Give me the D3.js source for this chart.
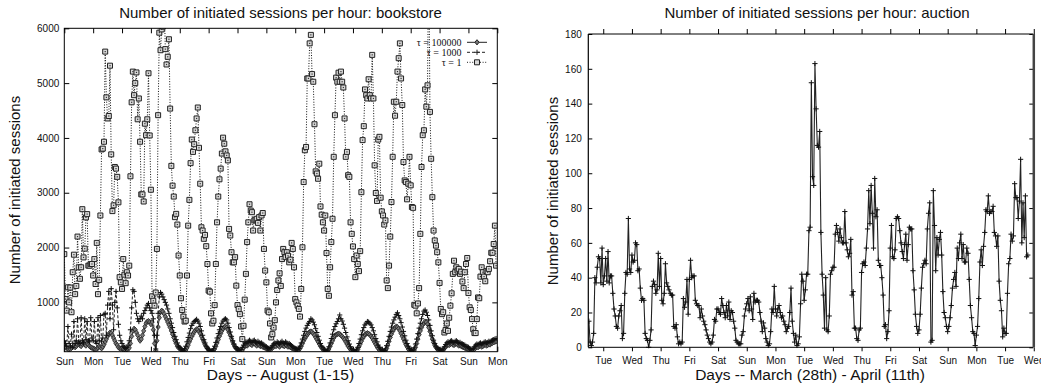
<!DOCTYPE html>
<html><head><meta charset="utf-8">
<script src="https://cdn.jsdelivr.net/npm/d3@7"></script>
<style>body{margin:0;background:#fff}</style>
</head><body>
<svg id="c" width="1041" height="385"></svg>
<script>
// ---------------- DATA ----------------
const bookDayLabels = ["Sun","Mon","Tue","Wed","Thu","Fri","Sat","Sun","Mon","Tue","Wed","Thu","Fri","Sat","Sun","Mon"];
const auctionDayLabels = ["Tue","Wed","Thu","Fri","Sat","Sun","Mon","Tue","Wed","Thu","Fri","Sat","Sun","Mon","Tue","Wed"];
const bookYTicks = [1000,2000,3000,4000,5000,6000];
const auctionYTicks = [0,20,40,60,80,100,120,140,160,180];
const seriesNames = ["\u03c4 = 100000","\u03c4 = 1000","\u03c4 = 1"];

// hourly values, bookstore, August 1-15 (hour 0 = Sun 00:00)
const tau100000 = [
210,190,170,150,140,150,170,190,210,180,200,230,250,220,200,240,260,230,210,250,230,200,180,170,
160,150,140,150,170,200,180,160,190,230,280,330,380,420,450,440,400,350,300,250,220,180,160,150,
160,150,140,130,140,150,170,250,380,480,520,500,450,400,340,300,330,400,480,560,620,650,660,640,
600,640,500,250,120,300,550,720,820,850,830,790,740,690,640,590,540,480,420,360,300,250,200,170,
170,140,120,100,100,130,170,220,280,330,380,420,460,490,510,500,470,430,380,330,280,230,190,160,
130,110,100,100,110,150,200,260,320,380,430,480,520,550,560,540,500,450,400,340,280,230,190,160,
140,120,110,110,130,170,200,220,210,230,250,240,220,250,260,230,210,240,220,200,210,190,180,170,
160,150,140,130,150,170,190,210,200,230,210,190,220,240,210,200,230,210,190,200,180,170,160,150,
140,130,120,130,160,200,250,300,340,380,410,440,460,470,460,430,400,360,320,280,240,200,170,150,
120,100,100,110,150,200,250,300,350,390,410,420,430,420,400,380,350,320,280,240,200,170,140,120,
110,100,100,110,140,190,240,290,340,380,410,430,440,430,410,380,350,310,270,230,190,160,130,110,
100,100,100,120,160,220,290,360,420,470,510,540,560,550,520,480,430,380,330,280,230,190,150,120,
110,100,100,130,180,250,330,410,480,540,590,620,650,640,600,540,470,400,330,270,220,180,150,130,
120,110,110,130,160,190,210,230,220,240,250,230,220,240,250,230,210,220,200,190,180,170,160,150,
140,130,120,110,130,150,170,190,180,200,210,190,200,220,230,210,220,240,230,250,260,270,280,290
];
const tau1000 = [
300,250,200,560,250,200,420,180,650,250,300,700,280,250,720,300,260,700,320,650,300,280,720,350,
300,650,280,250,720,300,760,280,350,780,800,400,950,1200,700,1250,950,500,1000,1200,900,600,400,300,
250,200,180,160,180,220,300,500,900,1230,1200,1000,800,700,650,700,750,700,800,850,900,950,980,900,
850,800,700,400,150,400,800,1100,1180,1150,1100,1050,1000,950,880,800,700,620,540,450,380,320,260,200,
180,150,130,120,150,200,280,360,440,520,580,620,650,670,690,660,620,560,480,400,320,260,200,160,
140,120,110,120,150,200,270,350,430,500,560,620,660,690,700,680,620,540,460,380,300,240,190,160,
150,140,130,140,180,220,260,280,260,290,310,290,270,300,310,280,260,290,270,250,260,240,220,200,
190,170,160,150,180,210,240,260,250,280,260,240,270,290,260,250,280,260,240,250,230,210,190,170,
160,150,140,160,200,260,330,400,470,530,580,620,650,700,680,640,590,520,450,380,310,250,200,170,
140,120,110,130,190,260,340,420,500,560,610,650,700,770,700,660,600,530,450,370,300,240,190,150,
130,110,110,130,180,250,330,410,480,540,590,620,650,640,620,590,540,480,410,340,280,220,180,150,
130,110,120,150,210,290,380,470,550,620,680,730,780,810,760,700,630,550,470,390,310,250,200,160,
130,120,130,170,240,330,430,530,620,700,780,840,860,820,760,680,580,480,390,310,250,200,170,150,
140,130,130,150,190,230,260,280,270,290,300,280,270,290,300,280,260,270,250,240,230,220,200,190,
180,160,150,140,160,190,220,240,230,250,260,240,250,270,280,260,270,290,280,300,310,320,330,340
];
const tau1 = [
1880,1060,850,1275,1000,1270,820,1550,1870,1150,1300,2200,1640,1430,1640,2700,1820,1980,2550,2610,1670,1670,1700,1700,1490,1790,1335,2085,1150,
1410,2585,3790,3805,3930,5575,4740,4355,4400,5318,3700,2665,2770,3470,3440,3290,2825,1460,1365,1245,1790,1505,1350,1550,1490,1670,3300,
4650,5210,4780,5000,5195,4340,4720,3930,2970,2970,2840,4260,4050,4340,5180,4045,3055,1110,1030,940,1180,1975,4415,5920,5600,5980,6030,6500,
5620,5340,5480,5800,4535,3490,3130,2930,2555,2615,2420,1855,1490,1075,860,740,650,665,1490,2400,2870,3540,3970,3745,3885,4140,4355,4555,3820,
3165,2370,2310,2160,2230,2025,1700,1215,1195,800,615,665,950,1700,2460,2930,3245,3440,3715,4005,3895,3755,3680,3590,2340,2220,1915,
1730,1730,1825,1305,950,880,785,560,330,573,1050,1520,2100,2460,2790,2675,2645,2310,2495,2510,2525,2450,2555,2310,2585,2630,1975,1580,
1365,850,820,615,360,420,540,675,1000,1225,1400,1530,1300,1790,1975,1915,1825,1915,1850,1730,1780,2085,1975,1640,1060,1000,940,880,
740,1245,2005,3195,3775,3835,5085,5085,5725,5880,5165,5025,4250,3390,3350,3255,3530,2750,2600,2460,2310,2585,1900,1245,1120,1640,2100,2525,
3655,4415,5100,5025,5190,5025,5210,5025,4920,4355,3655,3745,3320,3290,2460,2250,2020,1790,1460,1855,1700,1570,1935,3010,3960,4215,4885,4780,
4720,5070,4780,4720,5515,4720,3500,2995,2850,3970,4020,2910,2660,2585,2420,2495,1400,1260,1670,2200,2830,3655,4660,4405,4660,5210,5455,5725,
5085,4600,3560,3225,3195,2880,3165,3655,3135,2740,2725,955,940,800,980,1260,2250,3470,4050,4140,4885,4570,4960,7500,4475,3620,2920,2310,2130,
2035,1915,1730,1355,880,785,820,450,495,615,480,720,940,1165,1520,1760,1550,1640,1580,1610,1520,1560,1380,1260,1550,1700,1810,1170,
910,860,695,510,440,440,695,1090,1075,1470,1640,1550,1470,1385,1570,1550,1610,1750,1905,1905,2065,2400,1670
];

// hourly values, auction; first value is 12 hours before the first Tuesday
const auctionStartHour = -12;
const auction = [
15,3,1,3,8,40,37,46,52,51,37,57,
36,41,51,38,55,37,41,41,31,22,18,12,11,18,21,24,5,8,31,43,42,74,45,43,
53,49,50,60,59,44,45,34,27,28,27,8,5,4,0,4,10,35,38,36,31,33,54,35,
51,27,25,31,48,37,35,33,31,30,30,12,11,13,6,2,3,2,3,28,23,26,39,19,
39,50,40,41,41,27,25,24,24,17,22,18,15,13,10,7,5,3,2,3,7,16,15,22,
22,20,19,28,24,20,17,24,18,26,16,21,20,15,11,4,3,2,2,2,7,9,18,22,
25,28,21,29,22,16,31,26,27,27,26,20,15,9,14,11,5,3,1,2,9,22,20,35,
22,18,22,24,20,17,18,15,13,9,11,12,20,34,15,8,3,7,1,2,6,25,42,38,
27,33,42,42,67,69,152,98,93,163,137,116,115,124,66,42,30,11,40,10,9,18,42,44,
46,46,65,70,66,61,68,63,60,60,78,60,56,52,54,62,30,32,11,11,5,4,10,11,
43,48,49,47,57,68,90,71,93,77,57,97,75,79,50,47,47,40,30,12,13,5,9,21,
57,70,52,51,56,74,75,74,67,60,55,51,59,65,50,59,69,68,68,44,33,19,12,8,
10,19,34,46,48,50,48,68,77,83,3,4,90,70,44,63,53,62,66,53,32,20,17,12,
9,12,17,24,34,39,43,35,57,51,60,65,51,59,49,49,57,54,39,24,17,9,8,1,
7,12,28,49,56,47,58,66,79,78,87,77,78,78,81,66,64,58,64,38,27,21,6,11,
8,8,31,48,51,65,61,64,94,86,86,74,84,108,60,83,63,87,52,53
];

// ---------------- DRAW ----------------
const SANS = "'Liberation Sans', Arial, Helvetica, sans-serif";
const SERIF = "'Liberation Serif', 'Times New Roman', serif";
const svg = d3.select("#c");
const defs = svg.append("defs");

const squarePath = "M-2.5,-2.5h5v5h-5z";
const plusPath = "M-2.6,0h5.2M0,-2.6v5.2";
const diamondPath = "M0,-2.6L2.1,0L0,2.6L-2.1,0Z";
const intFmt = d3.format("d");

function styleAxis(g) {
  g.select(".domain").remove();
  g.selectAll("line").attr("stroke", "#000").attr("stroke-width", 1);
  g.selectAll("text").attr("font-family", SANS).attr("font-size", 10).attr("fill", "#111");
}

// ===== Left panel: bookstore =====
const L = {x0: 64.3, x1: 497.3, y0: 28.3, y1: 351.7};
const xL = d3.scaleLinear().domain([0, 360]).range([L.x0, L.x1]);
const yL = d3.scaleLinear().domain([100, 6000]).range([L.y1, L.y0]);
const dayHoursL = d3.range(0, 361, 24);

defs.append("clipPath").attr("id", "clipL").append("rect")
  .attr("x", L.x0).attr("y", L.y0).attr("width", L.x1 - L.x0).attr("height", L.y1 - L.y0);

const gL = svg.append("g");
gL.append("g").attr("transform", `translate(0,${L.y1})`)
  .call(d3.axisBottom(xL).tickValues(dayHoursL).tickFormat(d => bookDayLabels[d / 24]).tickSizeInner(-5).tickSizeOuter(0).tickPadding(6.5))
  .call(styleAxis);
gL.append("g").attr("transform", `translate(0,${L.y0})`)
  .call(d3.axisTop(xL).tickValues(dayHoursL).tickFormat("").tickSizeInner(-5).tickSizeOuter(0))
  .call(styleAxis);
gL.append("g").attr("transform", `translate(${L.x0},0)`)
  .call(d3.axisLeft(yL).tickValues(bookYTicks).tickFormat(intFmt).tickSizeInner(-5).tickSizeOuter(0).tickPadding(5))
  .call(styleAxis);
gL.append("g").attr("transform", `translate(${L.x1},0)`)
  .call(d3.axisRight(yL).tickValues(bookYTicks).tickFormat("").tickSizeInner(-5).tickSizeOuter(0))
  .call(styleAxis);

const plotL = gL.append("g").attr("clip-path", "url(#clipL)");
const lineL = d3.line().x((d, i) => xL(i)).y(d => yL(d));

// tau = 100000 : solid + diamonds
plotL.append("path").datum(tau100000).attr("d", lineL).attr("fill", "none").attr("stroke", "#222").attr("stroke-width", 1);
plotL.append("g").selectAll("path").data(tau100000).join("path")
  .attr("transform", (d, i) => `translate(${xL(i)},${yL(d)})`).attr("d", diamondPath)
  .attr("fill", "#777").attr("stroke", "#222").attr("stroke-width", 0.8);

// tau = 1000 : dashed + plus
plotL.append("path").datum(tau1000).attr("d", lineL).attr("fill", "none").attr("stroke", "#222").attr("stroke-width", 1).attr("stroke-dasharray", "3,2");
plotL.append("g").selectAll("path").data(tau1000).join("path")
  .attr("transform", (d, i) => `translate(${xL(i)},${yL(d)})`).attr("d", plusPath)
  .attr("fill", "none").attr("stroke", "#111").attr("stroke-width", 1);

// tau = 1 : dotted + squares
plotL.append("path").datum(tau1).attr("d", lineL).attr("fill", "none").attr("stroke", "#111").attr("stroke-width", 1).attr("stroke-dasharray", "1,1.6");
const sq = plotL.append("g").selectAll("g").data(tau1).join("g")
  .attr("transform", (d, i) => `translate(${xL(i)},${yL(d)})`);
sq.append("path").attr("d", squarePath).attr("fill", "#d8d8d8").attr("stroke", "#222").attr("stroke-width", 1);
sq.append("rect").attr("x", -0.6).attr("y", -0.6).attr("width", 1.2).attr("height", 1.2).attr("fill", "#333");

gL.append("rect").attr("x", L.x0).attr("y", L.y0).attr("width", L.x1 - L.x0).attr("height", L.y1 - L.y0)
  .attr("fill", "none").attr("stroke", "#000").attr("stroke-width", 1);

// legend
const legendRows = [
  {name: seriesNames[0], dash: null, marker: diamondPath, fill: "#777"},
  {name: seriesNames[1], dash: "3,2", marker: plusPath, fill: "none"},
  {name: seriesNames[2], dash: "1,1.6", marker: squarePath, fill: "#d8d8d8"}
];
const leg = gL.append("g");
legendRows.forEach((r, k) => {
  const yy = 42.3 + k * 10;
  leg.append("text").attr("x", 461.5).attr("y", yy).attr("dy", "0.35em").attr("text-anchor", "end")
    .attr("font-family", SERIF).attr("font-size", 10).attr("fill", "#111").text(r.name);
  leg.append("line").attr("x1", 467).attr("x2", 487).attr("y1", yy).attr("y2", yy)
    .attr("stroke", "#222").attr("stroke-width", 1).attr("stroke-dasharray", r.dash);
  leg.append("path").attr("transform", `translate(477,${yy})`).attr("d", r.marker)
    .attr("fill", r.fill).attr("stroke", "#222").attr("stroke-width", 1);
});

gL.append("text").attr("x", 280.5).attr("y", 18).attr("text-anchor", "middle")
  .attr("font-family", SANS).attr("font-size", 15).attr("fill", "#111")
  .text("Number of initiated sessions per hour: bookstore");
gL.append("text").attr("x", 280.5).attr("y", 380).attr("text-anchor", "middle")
  .attr("font-family", SANS).attr("font-size", 15.5).attr("fill", "#111")
  .text("Days -- August (1-15)");
gL.append("text").attr("transform", "translate(19.5,190) rotate(-90)").attr("text-anchor", "middle")
  .attr("font-family", SANS).attr("font-size", 15).attr("fill", "#111")
  .text("Number of initiated sessions");

// ===== Right panel: auction =====
const R = {x0: 588.3, x1: 1033.3, y0: 34, y1: 347.3};
const xR = d3.scaleLinear().domain([-12.5, 359.6]).range([R.x0, R.x1]);
const yR = d3.scaleLinear().domain([0, 180]).range([R.y1, R.y0]);
const dayHoursR = d3.range(0, 361, 24);

defs.append("clipPath").attr("id", "clipR").append("rect")
  .attr("x", R.x0).attr("y", R.y0 - 1).attr("width", R.x1 - R.x0).attr("height", R.y1 - R.y0 + 2);

const gR = svg.append("g");
gR.append("g").attr("transform", `translate(0,${R.y1})`)
  .call(d3.axisBottom(xR).tickValues(dayHoursR).tickFormat(d => auctionDayLabels[d / 24]).tickSizeInner(4).tickSizeOuter(0).tickPadding(6))
  .call(styleAxis);
gR.append("g").attr("transform", `translate(0,${R.y0})`)
  .call(d3.axisTop(xR).tickValues(dayHoursR).tickFormat("").tickSizeInner(5).tickSizeOuter(0))
  .call(styleAxis);
gR.append("g").attr("transform", `translate(${R.x0},0)`)
  .call(d3.axisLeft(yR).tickValues(auctionYTicks).tickFormat(intFmt).tickSizeInner(-4).tickSizeOuter(0).tickPadding(6.5))
  .call(styleAxis);
gR.append("g").attr("transform", `translate(${R.x1},0)`)
  .call(d3.axisRight(yR).tickValues(auctionYTicks).tickFormat("").tickSizeInner(-4).tickSizeOuter(0))
  .call(styleAxis);

const plotR = gR.append("g").attr("clip-path", "url(#clipR)");
const lineR = d3.line().x((d, i) => xR(auctionStartHour + i)).y(d => yR(d));
plotR.append("path").datum(auction).attr("d", lineR).attr("fill", "none").attr("stroke", "#222").attr("stroke-width", 1.1);
plotR.append("g").selectAll("path").data(auction).join("path")
  .attr("transform", (d, i) => `translate(${xR(auctionStartHour + i)},${yR(d)})`).attr("d", plusPath)
  .attr("fill", "none").attr("stroke", "#111").attr("stroke-width", 1);

gR.append("line").attr("x1", R.x0).attr("x2", R.x1).attr("y1", R.y0).attr("y2", R.y0).attr("stroke", "#000").attr("stroke-width", 1);
gR.append("line").attr("x1", R.x0).attr("x2", R.x1).attr("y1", R.y1).attr("y2", R.y1).attr("stroke", "#000").attr("stroke-width", 1);
gR.append("line").attr("x1", R.x0).attr("x2", R.x0).attr("y1", R.y0).attr("y2", R.y1).attr("stroke", "#000").attr("stroke-width", 1.2);
gR.append("line").attr("x1", R.x1 + 0.5).attr("x2", R.x1 + 0.5).attr("y1", R.y0).attr("y2", R.y1).attr("stroke", "#444").attr("stroke-width", 2.5);

gR.append("text").attr("x", 817).attr("y", 18).attr("text-anchor", "middle")
  .attr("font-family", SANS).attr("font-size", 15).attr("fill", "#111")
  .text("Number of initiated sessions per hour: auction");
gR.append("text").attr("x", 810).attr("y", 380).attr("text-anchor", "middle")
  .attr("font-family", SANS).attr("font-size", 15.5).attr("fill", "#111")
  .text("Days -- March (28th) - April (11th)");
gR.append("text").attr("transform", "translate(557.5,191) rotate(-90)").attr("text-anchor", "middle")
  .attr("font-family", SANS).attr("font-size", 15).attr("fill", "#111")
  .text("Number of initiated sessions");
</script>
</body></html>
